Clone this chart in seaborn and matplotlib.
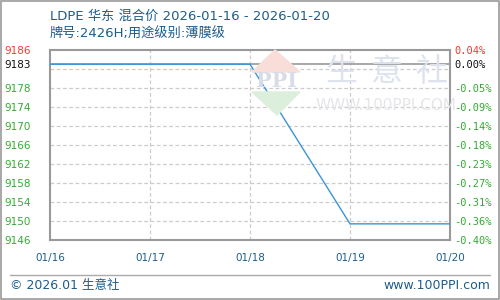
import matplotlib
matplotlib.use("Agg")
import matplotlib.pyplot as plt
from matplotlib.patches import Polygon, Rectangle
from matplotlib.lines import Line2D
import seaborn as sns
import pandas as pd

dates = ["01/16", "01/17", "01/18", "01/19", "01/20"]
prices = [9183, 9183, 9183, 9149.4, 9149.4]
base_price = 9183
grid_ticks = [9146, 9150, 9154, 9158, 9162, 9166, 9170, 9174, 9178, 9182, 9186]
left_ticks = [9186, 9183, 9178, 9174, 9170, 9166, 9162, 9158, 9154, 9150, 9146]
left_labels = ["9186", "9183", "9178", "9174", "9170", "9166", "9162", "9158", "9154", "9150", "9146"]
right_labels = ["0.04%", "0.00%", "-0.05%", "-0.09%", "-0.14%", "-0.18%", "-0.23%", "-0.27%", "-0.31%", "-0.36%", "-0.40%"]
title1 = "LDPE 华东 混合价 2026-01-16 - 2026-01-20"
title2 = "牌号:2426H;用途级别:薄膜级"
footer_left = "© 2026.01 生意社"
footer_right = "www.100PPI.com"

sns.set_style("white")
plt.rcParams['font.family'] = ['DejaVu Sans', 'Noto Sans CJK SC']

W, H = 500.0, 300.0
def fx(px):
    return px / W
def fy(py):
    return 1 - py / H

fig = plt.figure(figsize=(5, 3), dpi=100)

# watermark (behind axes)
for ch, cx in zip("生意社", [341, 387, 431]):
    fig.text(fx(cx), fy(72), ch, fontsize=23, color="#dde2ec", ha="center", va="center",
             family=["Noto Sans CJK SC"], zorder=0)
fig.text(fx(386), fy(105), "WWW.100PPI.COM", fontsize=11, color="#e6e6ea", ha="center",
         va="center", zorder=0)
tri1 = Polygon([[fx(252), fy(72)], [fx(275), fy(50)], [fx(300), fy(72)]], closed=True,
               transform=fig.transFigure, color="#f8ddd8", zorder=0)
tri2 = Polygon([[fx(252), fy(92)], [fx(277), fy(115)], [fx(300), fy(92)]], closed=True,
               transform=fig.transFigure, color="#dcefdc", zorder=0)
fig.patches.extend([tri1, tri2])
fig.text(fx(277), fy(81), "PPI", fontsize=15, color="#d8dce8", ha="center", va="center",
         family=["DejaVu Serif"], fontweight="bold", zorder=0)

ax = fig.add_axes([0.1, 0.2, 0.8, 190 / 300])
ax.patch.set_alpha(0)

df = pd.DataFrame({"x": range(len(dates)), "price": prices})

# grid
for g in grid_ticks[1:-1]:
    ax.axhline(g, color="#cccccc", lw=0.9, ls=(0, (3, 2)), zorder=0)
for i in range(1, len(dates) - 1):
    ax.axvline(i, color="#cccccc", lw=0.9, ls=(0, (3, 2)), zorder=0)

ax.axhline(base_price, color="#999999", lw=1.2, zorder=1)

sns.lineplot(data=df, x="x", y="price", ax=ax, color="#3a94d6", lw=1.0, zorder=3)

ax.set_xlim(0, len(dates) - 1)
ax.set_ylim(9146, 9186)
ax.set_xlabel("")
ax.set_ylabel("")
ax.set_xticks(range(len(dates)))
ax.set_xticklabels(dates, color="#1d5d8a", fontsize=7.5)
ax.set_yticks(left_ticks)
ax.set_yticklabels(left_labels, fontsize=7.5)
cols = ["#ff3333", "#111111"] + ["#33aa33"] * (len(left_ticks) - 2)
for t, c in zip(ax.get_yticklabels(), cols):
    t.set_color(c)
ax.tick_params(axis="y", length=0, pad=14)
ax.tick_params(axis="x", length=0, pad=9)
for s in ax.spines.values():
    s.set_color("#999999")
    s.set_linewidth(1.5)

ax2 = ax.twinx()
ax2.set_ylim(9146, 9186)
ax2.set_yticks(left_ticks)
ax2.set_yticklabels(right_labels, fontsize=7.5, family=["DejaVu Sans Mono"])
for t, c in zip(ax2.get_yticklabels(), cols):
    t.set_color(c)
ax2.tick_params(axis="y", length=0, pad=3)
for s in ax2.spines.values():
    s.set_visible(False)

# titles
fig.text(0.1, fy(16), title1, fontsize=9.5, color="#1d5d8a", ha="left", va="center")
fig.text(0.1, fy(34), title2, fontsize=9.5, color="#1d5d8a", ha="left", va="center")

# footer
fig.add_artist(Line2D([fx(10), fx(490)], [fy(275)] * 2, transform=fig.transFigure,
                      color="#aaaaaa", lw=1))
fig.text(fx(10), fy(285.5), footer_left, fontsize=9, color="#1d5d8a", ha="left", va="center")
fig.text(fx(490), fy(285.5), footer_right, fontsize=9, color="#1d5d8a", ha="right", va="center")

# outer border
fig.add_artist(Rectangle((0.002, 0.003), 0.996, 0.994, transform=fig.transFigure,
                         fill=False, edgecolor="#999999", lw=1.2))

fig.savefig("out.png", dpi=100)
